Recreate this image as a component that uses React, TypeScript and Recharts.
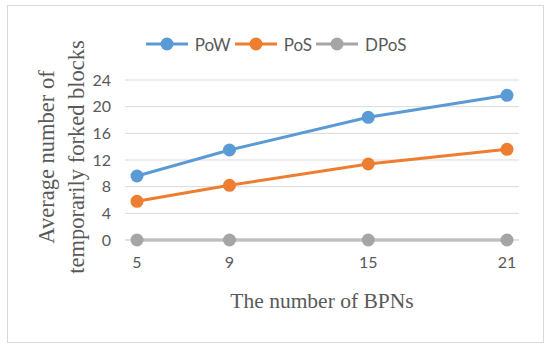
import React from 'react';
import { LineChart, Line, XAxis, YAxis, CartesianGrid, Legend } from 'recharts';

const bpns = [5, 9, 15, 21];
const pow = [9.6, 13.5, 18.4, 21.7];
const pos = [5.8, 8.2, 11.4, 13.6];
const dpos = [0, 0, 0, 0];
const yTicks = [0, 4, 8, 12, 16, 20, 24];

const data = bpns.map((b, i) => ({ bpn: b, PoW: pow[i], PoS: pos[i], DPoS: dpos[i] }));

const series = [
  { key: 'PoW', color: '#5B9BD5' },
  { key: 'PoS', color: '#ED7D31' },
  { key: 'DPoS', color: '#A5A5A5' },
];

const tickFont = { fontFamily: 'Lato, "Open Sans", sans-serif', fontSize: 16, fill: '#595959' };

function LegendContent() {
  return (
    <div style={{ display: 'flex', justifyContent: 'center', alignItems: 'center', height: 20, fontFamily: 'Lato, "Open Sans", sans-serif', fontSize: 17, color: '#595959' }}>
      {series.map((s) => (
        <div key={s.key} style={{ display: 'flex', alignItems: 'center', marginRight: 3 }}>
          <svg width={44} height={16} style={{ marginRight: 6 }}>
            <line x1={1} y1={8} x2={43} y2={8} stroke={s.color} strokeWidth={3} />
            <circle cx={22} cy={8} r={6.5} fill={s.color} />
          </svg>
          <span>{s.key}</span>
        </div>
      ))}
    </div>
  );
}

function YTitle() {
  return (
    <text transform="translate(62,157) rotate(-90)" textAnchor="middle" fontFamily='"Liberation Serif", "Times New Roman", serif' fontSize={22.5} fill="#595959">
      <tspan x={0} dy={-8}>Average number of</tspan>
      <tspan x={0} dy={30}>temporarily forked blocks</tspan>
    </text>
  );
}

export default function App() {
  return (
    <div style={{ position: 'absolute', left: 0, top: 0, width: 550, height: 349, background: '#fff' }}>
      <div style={{ position: 'absolute', left: 7, top: 5, width: 535, height: 336, border: '1px solid #d9d9d9' }} />
      <LineChart width={550} height={349} data={data} margin={{ top: 60, right: 31, bottom: 79, left: 95 }}>
        <CartesianGrid horizontal vertical={false} stroke="#D9D9D9" strokeWidth={1} />
        <XAxis
          dataKey="bpn"
          type="number"
          domain={[5, 21]}
          ticks={bpns}
          padding={{ left: 12, right: 12 }}
          axisLine={{ stroke: '#D9D9D9' }}
          tickLine={false}
          tick={tickFont}
          tickMargin={11}
          height={30}
          label={{ value: 'The number of BPNs', position: 'insideBottom', offset: -38, style: { fontFamily: '"Liberation Serif", "Times New Roman", serif', fontSize: 21.5, fill: '#595959' } }}
        />
        <YAxis
          domain={[0, 24]}
          ticks={yTicks}
          axisLine={false}
          tickLine={false}
          tick={tickFont}
          tickMargin={8}
          width={30}
          label={{ content: () => <YTitle /> }}
        />
        <Legend verticalAlign="top" height={20} content={() => <LegendContent />} wrapperStyle={{ top: 34, left: 2, width: 550 }} />
        {series.map((s) => (
          <Line
            key={s.key}
            dataKey={s.key}
            stroke={s.color}
            strokeWidth={3}
            dot={{ r: 6.5, fill: s.color, stroke: s.color, strokeWidth: 0 }}
            activeDot={false}
            isAnimationActive={false}
          />
        ))}
      </LineChart>
    </div>
  );
}
